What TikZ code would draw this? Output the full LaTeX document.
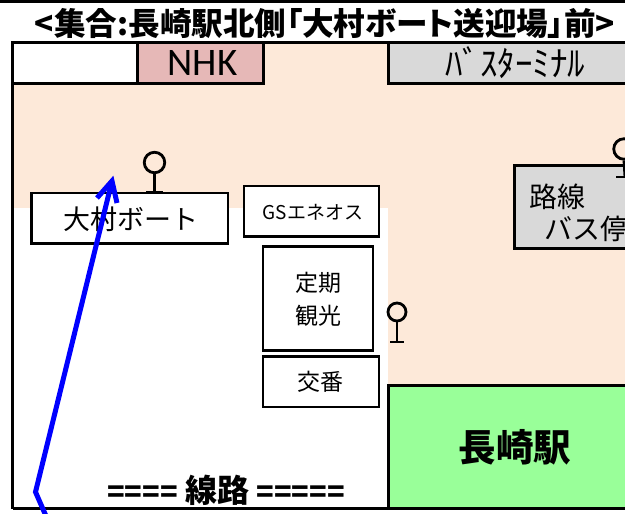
\documentclass[tikz,border=0pt]{standalone}
\usepackage{fontspec}
\setmainfont{Noto Sans CJK JP}
\newfontfamily\titlefont[RawFeature=+palt]{Noto Sans CJK JP}
\newfontfamily\latinfont{Carlito}
\tikzset{
  frameline/.style={draw=black,line width=3pt},
  thinbox/.style={draw=black,line width=2.4pt,fill=white,inner sep=0pt,align=center},
  region/.style={draw=black,line width=3pt,inner sep=0pt,align=center},
  stoppole/.style={draw=black,line width=2.8pt},
  stopring/.style={circle,draw=black,line width=2.8pt,inner sep=0pt,fill=none},
  route/.style={draw=blue,line width=5pt,line join=miter},
  lbl/.style={inner sep=0pt,text=black,align=center}
}
\definecolor{peach}{HTML}{FDE9D9}
\definecolor{nhkpink}{HTML}{E6B8B7}
\definecolor{lightgray}{HTML}{D9D9D9}
\definecolor{stationgreen}{HTML}{99FF99}
\begin{document}
\begin{tikzpicture}[x=1pt,y=-1pt]
\useasboundingbox (0,0) rectangle (625,514);
\clip (0,0) rectangle (625,514);
\fill[white] (0,0) rectangle (625,514);
\fill[black] (0,0) rectangle (625,3);
% ground
\fill[peach] (13,43) rectangle (625,208);
\fill[peach] (388,208) rectangle (625,386);
% frame
\draw[frameline] (12.5,508.7) -- (12.5,42.7) -- (625,42.7);
\draw[frameline] (12.5,508.7) -- (625,508.7);
% title
\node[lbl,font=\titlefont\bfseries\fontsize{31.6}{33}\selectfont] (title) at (325,24) {<集合:長崎駅北側「大村ボート送迎場」前>};
% top row
\node[region,fill=white,minimum width=125pt,minimum height=40.8pt] (blank) at (75,63.1) {};
\node[region,fill=nhkpink,minimum width=126.2pt,minimum height=40.8pt] (nhk) at (200.6,63.1) {};
\node[lbl,font=\latinfont\fontsize{39}{40}\selectfont] (nhklabel) at (202.5,63.1) {NHK};
\node[region,fill=lightgray,minimum width=271.3pt,minimum height=40.8pt] (term) at (524.35,63.1) {};
\node[lbl,font=\fontsize{35}{37}\selectfont] (termlabel) at (515,63) {ﾊﾞｽﾀｰﾐﾅﾙ};
% bus box
\node[region,fill=lightgray,minimum width=146pt,minimum height=82.7pt] (busbox) at (587,206.65) {};
\node[lbl,font=\fontsize{28}{30}\selectfont] (rosen) at (557,197) {路線};
\node[lbl,font=\fontsize{28}{30}\selectfont,anchor=west] (busstop) at (544,229) {バス停};
% buildings
\node[thinbox,minimum width=196.3pt,minimum height=50.3pt] (boat) at (129.55,218.15) {};
\node[lbl,font=\fontsize{27}{29}\selectfont] (boatlabel) at (131,219) {大村ボート};
\node[thinbox,minimum width=135.3pt,minimum height=50.3pt] (gs) at (311.35,211.15) {};
\node[lbl,font=\fontsize{19}{22}\selectfont] (gslabel) at (313,212) {GSエネオス};
\node[thinbox,minimum width=110.2pt,minimum height=103.8pt] (teiki) at (317.9,298.4) {};
\node[lbl,font=\fontsize{23}{33}\selectfont] (teikilabel) at (318,299.5) {定期\\観光};
\node[thinbox,minimum width=115.9pt,minimum height=50.7pt,font=\fontsize{23}{25}\selectfont] (koban) at (320.75,381.65) {交番};
% station
\node[region,fill=stationgreen,minimum width=271.3pt,minimum height=123.2pt] (station) at (524.35,447.1) {};
\node[lbl,font=\bfseries\fontsize{37.5}{40}\selectfont] (stationlabel) at (515,447) {長崎駅};
% rail label
\node[lbl,font=\bfseries\fontsize{32}{34}\selectfont] (rail) at (226,490) {{\fontsize{29}{30}\selectfont ====} 線路 {\fontsize{29}{30}\selectfont =====}};
% bus stops
\node[stopring,minimum size=20.5pt] (ring1) at (154.5,162.5) {};
\coordinate (foot1) at (154.5,192);
\draw[stoppole] (ring1.south) -- (foot1);
\draw[stoppole] ([xshift=-8.5pt]foot1) -- ([xshift=8.5pt]foot1);
\node[stopring,minimum size=18pt] (ring2) at (397,312) {};
\coordinate (foot2) at (397,342);
\draw[stoppole,line width=2.2pt] (ring2.south) -- (foot2);
\draw[stoppole,line width=2.2pt] ([xshift=-7pt]foot2) -- ([xshift=7pt]foot2);
\node[stopring,minimum size=20.5pt] (ring3) at (624,149) {};
\coordinate (foot3) at (625,177);
\draw[stoppole] (ring3.south) -- (foot3);
\draw[stoppole] ([xshift=-9pt]foot3) -- ([xshift=9pt]foot3);
% route
\coordinate (rstart) at (46,516);
\coordinate (rbend) at (35.5,492);
\coordinate (rtip) at (112,181);
\coordinate (rbarbA) at (97,198);
\coordinate (rbarbB) at (117,203);
\draw[route] (rstart) -- (rbend) -- (rtip);
\draw[route] (rbarbA) -- (rtip) -- (rbarbB);
\end{tikzpicture}
\end{document}
